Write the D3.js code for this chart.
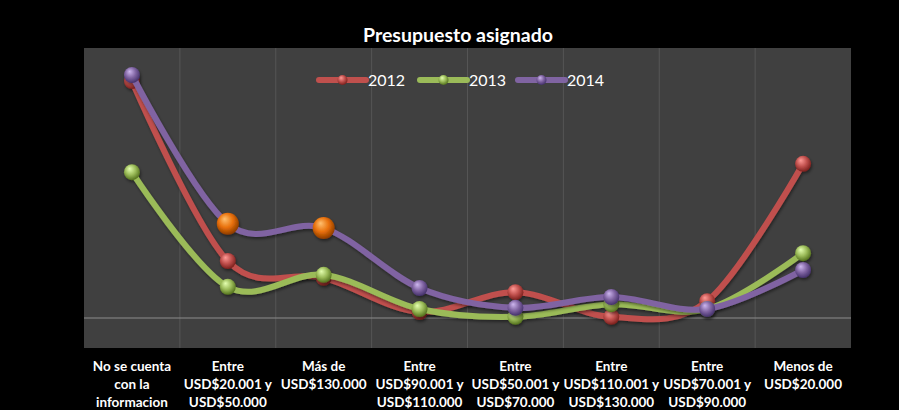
<!DOCTYPE html>
<html>
<head>
<meta charset="utf-8">
<script src="https://cdn.jsdelivr.net/npm/d3@7"></script>
<style>
  html, body { margin: 0; padding: 0; background: #000; }
  svg { display: block; }
</style>
</head>
<body>
<div id="chart"></div>
<script>
// Chart data
const categories = ['c0', 'c1', 'c2', 'c3', 'c4', 'c5', 'c6', 'c7'];
const categoryLabels = [
  ['No se cuenta', 'con la', 'informacion'],
  ['Entre', 'USD$20.001 y', 'USD$50.000'],
  ['Más de', 'USD$130.000'],
  ['Entre', 'USD$90.001 y', 'USD$110.000'],
  ['Entre', 'USD$50.001 y', 'USD$70.000'],
  ['Entre', 'USD$110.001 y', 'USD$130.000'],
  ['Entre', 'USD$70.001 y', 'USD$90.000'],
  ['Menos de', 'USD$20.000']
];
const years = ['2012', '2013', '2014'];
const values2012 = [39.5, 9.5, 6.7, 1.0, 4.3, 0.2, 2.8, 25.7];
const values2013 = [24.3, 5.2, 7.2, 1.5, 0.2, 2.3, 1.5, 10.8];
const values2014 = [40.5, 15.7, 15.0, 5.0, 1.7, 3.5, 1.5, 8.0];
// points of 2014 drawn with the orange highlight marker
const highlight2014 = [1, 2];

const width = 899;
const height = 410;
const plot = { left: 84, right: 851, top: 48, bottom: 348 };

const series = [
  { name: years[0], values: values2012, color: '#c0504d', light: '#ff9a96', dark: '#7a1f1c' },
  { name: years[1], values: values2013, color: '#9bbb59', light: '#e4ffb0', dark: '#52701c' },
  { name: years[2], values: values2014, color: '#8064a2', light: '#cdb6ee', dark: '#43306a' }
];

const svg = d3.select('#chart').append('svg')
  .attr('width', width)
  .attr('height', height)
  .style('font-family', 'Lato, "Open Sans", sans-serif');

svg.append('rect')
  .attr('width', width)
  .attr('height', height)
  .attr('fill', '#000');

// Sphere-like marker gradients
const defs = svg.append('defs');
function sphere(id, light, base, dark) {
  const g = defs.append('radialGradient')
    .attr('id', id)
    .attr('cx', '45%').attr('cy', '40%').attr('r', '60%')
    .attr('fx', '35%').attr('fy', '28%');
  g.append('stop').attr('offset', '0%').attr('stop-color', light);
  g.append('stop').attr('offset', '55%').attr('stop-color', base);
  g.append('stop').attr('offset', '100%').attr('stop-color', dark);
}
series.forEach((s, i) => sphere('ball' + i, s.light, s.color, s.dark));
sphere('ballOrange', '#ffc070', '#e8700a', '#8a3a00');

// soft shadow under lines and markers
defs.append('filter')
  .attr('id', 'shadow')
  .attr('x', '-10%').attr('y', '-10%')
  .attr('width', '120%').attr('height', '130%')
  .append('feDropShadow')
  .attr('dx', 1).attr('dy', 2)
  .attr('stdDeviation', 1.5)
  .attr('flood-color', '#000')
  .attr('flood-opacity', 0.45);

const x = d3.scaleBand()
  .domain(categories)
  .range([plot.left, plot.right]);

const y = d3.scaleLinear()
  .domain([-5, 45])
  .range([plot.bottom, plot.top]);

const cx = c => x(c) + x.bandwidth() / 2;

// Plot area
svg.append('rect')
  .attr('x', plot.left)
  .attr('y', plot.top)
  .attr('width', plot.right - plot.left)
  .attr('height', plot.bottom - plot.top)
  .attr('fill', '#404040');

// Vertical gridlines between categories
svg.append('g')
  .selectAll('line')
  .data(categories.slice(1))
  .join('line')
  .attr('x1', d => x(d))
  .attr('x2', d => x(d))
  .attr('y1', plot.top)
  .attr('y2', plot.bottom)
  .attr('stroke', '#555')
  .attr('stroke-width', 1);

// Zero line
svg.append('line')
  .attr('x1', plot.left)
  .attr('x2', plot.right)
  .attr('y1', y(0))
  .attr('y2', y(0))
  .attr('stroke', '#8c8c8c')
  .attr('stroke-width', 1.2);

// Title
svg.append('text')
  .attr('x', 458)
  .attr('y', 42)
  .attr('text-anchor', 'middle')
  .attr('fill', '#fff')
  .attr('font-size', 19.5)
  .attr('font-weight', 'bold')
  .text('Presupuesto asignado');

const line = d3.line()
  .x((d, i) => cx(categories[i]))
  .y(d => y(d))
  .curve(d3.curveCatmullRom.alpha(0));

// Series: line then markers
series.forEach((s, si) => {
  const g = svg.append('g').attr('filter', 'url(#shadow)');
  g.append('path')
    .datum(s.values)
    .attr('fill', 'none')
    .attr('stroke', s.color)
    .attr('stroke-width', 6)
    .attr('stroke-linecap', 'round')
    .attr('d', line);

  g.selectAll('circle')
    .data(s.values)
    .join('circle')
    .attr('cx', (d, i) => cx(categories[i]))
    .attr('cy', d => y(d))
    .attr('r', (d, i) => (si === 2 && highlight2014.includes(i)) ? 11 : 8)
    .attr('fill', (d, i) => (si === 2 && highlight2014.includes(i)) ? 'url(#ballOrange)' : `url(#ball${si})`);
});

// Legend
const legendX = [319, 420, 518];
const legend = svg.append('g');
series.forEach((s, i) => {
  const lg = legend.append('g').attr('transform', `translate(${legendX[i]},80)`);
  lg.append('line')
    .attr('x1', 0).attr('x2', 47)
    .attr('y1', 0).attr('y2', 0)
    .attr('stroke', s.color)
    .attr('stroke-width', 6)
    .attr('stroke-linecap', 'round');
  lg.append('circle')
    .attr('cx', 23.5).attr('cy', 0).attr('r', 5)
    .attr('fill', `url(#ball${i})`);
  lg.append('text')
    .attr('x', 49)
    .attr('y', 6)
    .attr('fill', '#fff')
    .attr('font-size', 16)
    .text(s.name);
});

// Category labels
const labels = svg.append('g');
categories.forEach((c, i) => {
  const t = labels.append('text')
    .attr('x', cx(c))
    .attr('y', 371)
    .attr('text-anchor', 'middle')
    .attr('fill', '#fff')
    .attr('font-size', 13.5)
    .attr('font-weight', 'bold');
  categoryLabels[i].forEach((ln, j) => {
    t.append('tspan')
      .attr('x', cx(c))
      .attr('dy', j === 0 ? 0 : 18)
      .text(ln);
  });
});
</script>
</body>
</html>
